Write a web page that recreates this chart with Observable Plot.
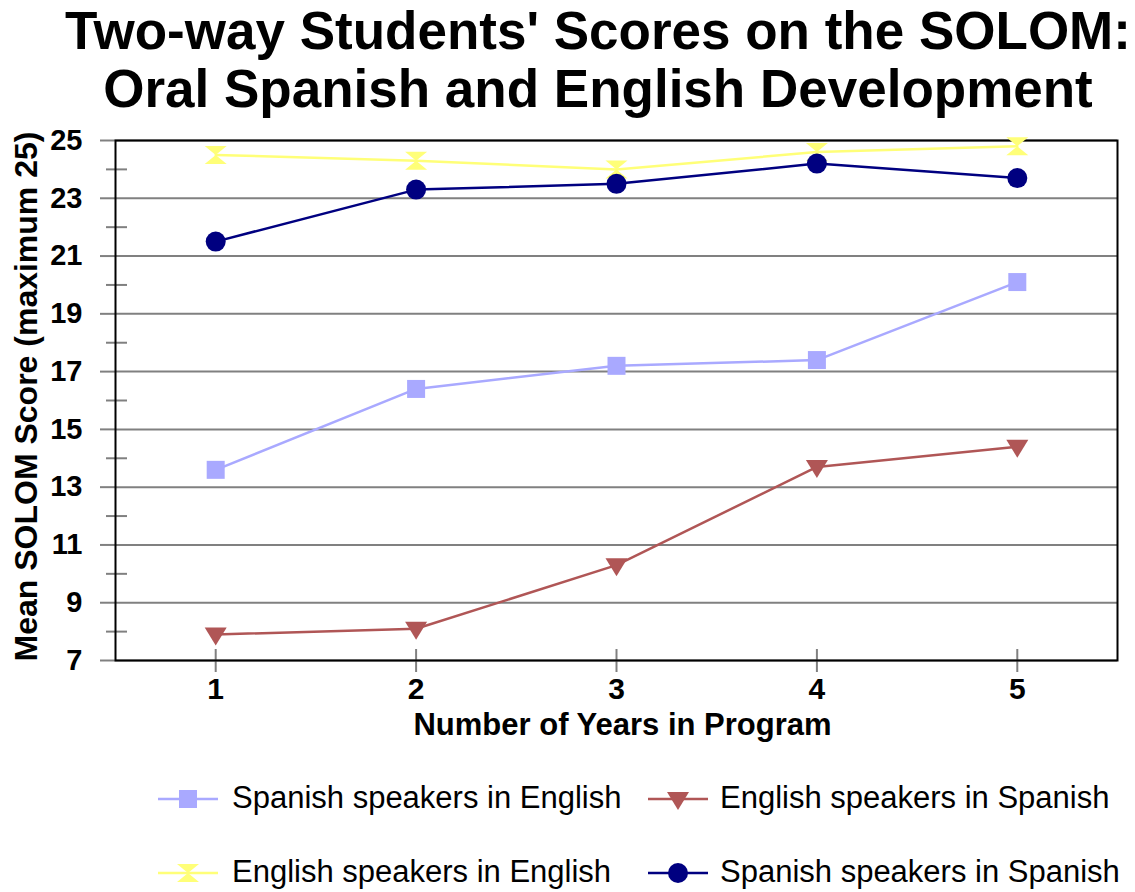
<!DOCTYPE html>
<html>
<head>
<meta charset="utf-8">
<script src="https://cdn.jsdelivr.net/npm/d3@7"></script>
<script src="https://cdn.jsdelivr.net/npm/@observablehq/plot@0.6"></script>
<style>
  html, body { margin: 0; padding: 0; background: #fff; }
  body { width: 1135px; height: 892px; position: relative; overflow: hidden; font-family: "Liberation Sans", Arial, sans-serif; }
  #title { position: absolute; top: 2px; left: 61px; width: 1074px; text-align: center; font-size: 53px; font-weight: bold; line-height: 58px; color: #000; z-index: 2; }
  #chart { position: absolute; top: 100px; left: 0; z-index: 1; }
  .leg { position: absolute; display: block; }
  .legtext { position: absolute; font-size: 31px; line-height: 31px; color: #000; white-space: nowrap; }
</style>
</head>
<body>
<div id="title"></div>
<div id="chart"></div>
<div id="legend"></div>
<script>
// ---- data ----
const titleLines = ["Two-way Students' Scores on the SOLOM:", "Oral Spanish and English Development"];
const xLabel = "Number of Years in Program";
const yLabel = "Mean SOLOM Score (maximum 25)";
const years = [1, 2, 3, 4, 5];
const xTicks = [1, 2, 3, 4, 5];
const yTicks = [7, 9, 11, 13, 15, 17, 19, 21, 23, 25];
const yMinorTicks = [8, 10, 12, 14, 16, 18, 20, 22, 24];
const seriesNames = ["Spanish speakers in English", "English speakers in Spanish", "English speakers in English", "Spanish speakers in Spanish"];
const spanishInEnglish = [13.6, 16.4, 17.2, 17.4, 20.1];
const englishInSpanish = [7.9, 8.1, 10.3, 13.7, 14.4];
const englishInEnglish = [24.5, 24.3, 24.0, 24.6, 24.8];
const spanishInSpanish = [21.5, 23.3, 23.5, 24.2, 23.7];
const seriesColors = ["#a9a9ff", "#b05656", "#ffff78", "#000080"];

// ---- marker shapes ----
const squareSym = {draw(c) { const s = 9; c.moveTo(-s, -s); c.lineTo(s, -s); c.lineTo(s, s); c.lineTo(-s, s); c.closePath(); }};
const triDownSym = {draw(c) { c.moveTo(-11, -7); c.lineTo(11, -7); c.lineTo(0, 11); c.closePath(); }};
const hourglassSym = {draw(c) { const w = 11, h = 9; c.moveTo(-w, -h); c.lineTo(w, -h); c.lineTo(-w, h); c.lineTo(w, h); c.closePath(); }};
const circleSym = {draw(c) { c.moveTo(10, 0); c.arc(0, 0, 10, 0, 2 * Math.PI); c.closePath(); }};
const seriesSymbols = [squareSym, triDownSym, hourglassSym, circleSym];
const seriesValues = [spanishInEnglish, englishInSpanish, englishInEnglish, spanishInSpanish];

const tables = seriesNames.map((name, k) => years.map((yr, i) => ({series: name, year: yr, value: seriesValues[k][i]})));

// ---- title ----
document.getElementById("title").innerHTML = titleLines.join("<br>");

// ---- chart ----
const seriesMarks = tables.flatMap((rows, k) => [
  Plot.line(rows, {x: "year", y: "value", stroke: seriesColors[k], strokeWidth: 2.5}),
  Plot.dot(rows, {x: "year", y: "value", symbol: seriesSymbols[k], fill: seriesColors[k], stroke: "none", r: 8})
]);

const chart = Plot.plot({
  width: 1135,
  height: 680,
  marginTop: 40,
  marginBottom: 120,
  marginLeft: 115,
  marginRight: 18,
  style: {fontFamily: "'Liberation Sans', Arial, sans-serif", background: "transparent", overflow: "visible", color: "black"},
  x: {domain: [0.5, 5.5]},
  y: {domain: [7, 25]},
  marks: [
    Plot.gridY(yTicks, {stroke: "#808080", strokeOpacity: 1, strokeWidth: 2}),
    Plot.axisY(yTicks, {tickSize: 15, tickPadding: 18, stroke: "#808080", strokeWidth: 2, fill: "black", fontSize: 29, fontWeight: "bold", label: null}),
    Plot.axisY(yMinorTicks, {tickSize: 21, dx: 12, stroke: "#808080", strokeWidth: 2, fill: "none", label: null}),
    Plot.axisX(xTicks, {tickSize: 23, dy: -11, stroke: "#808080", strokeWidth: 2, fill: "none", label: null}),
    Plot.axisX(xTicks, {tickSize: 12, tickPadding: 5, stroke: "none", fill: "black", fontSize: 30, fontWeight: "bold", tickFormat: d3.format("d"), label: null}),
    Plot.frame({stroke: "black", strokeWidth: 2}),
    ...seriesMarks,
    Plot.text([yLabel], {frameAnchor: "left", textAnchor: "middle", rotate: -90, dx: -89, dy: -4, fontSize: 32, fontWeight: "bold", fill: "black"}),
    Plot.text([xLabel], {frameAnchor: "bottom", lineAnchor: "top", dy: 52, dx: 6, fontSize: 31, fontWeight: "bold", fill: "black"})
  ]
});
document.getElementById("chart").appendChild(chart);

// ---- legend ----
const legend = document.getElementById("legend");
const legendPos = [
  {sx: 158, tx: 232, cy: 799},
  {sx: 648, tx: 720, cy: 799},
  {sx: 158, tx: 232, cy: 873},
  {sx: 648, tx: 720, cy: 873}
];
seriesNames.forEach((name, k) => {
  const pos = legendPos[k];
  const p = d3.path();
  seriesSymbols[k].draw(p, 0);
  const svg = d3.create("svg")
    .attr("class", "leg")
    .attr("width", 60).attr("height", 30)
    .style("left", pos.sx + "px").style("top", (pos.cy - 15) + "px")
    .style("overflow", "visible");
  svg.append("line").attr("x1", 0).attr("x2", 60).attr("y1", 15).attr("y2", 15)
    .attr("stroke", seriesColors[k]).attr("stroke-width", 2.5);
  svg.append("path").attr("d", p.toString()).attr("transform", "translate(30,15)")
    .attr("fill", seriesColors[k]);
  legend.appendChild(svg.node());
  const t = document.createElement("div");
  t.className = "legtext";
  t.style.left = pos.tx + "px";
  t.style.top = (pos.cy + 9 - 26.3) + "px";
  t.textContent = name;
  legend.appendChild(t);
});
</script>
</body>
</html>
